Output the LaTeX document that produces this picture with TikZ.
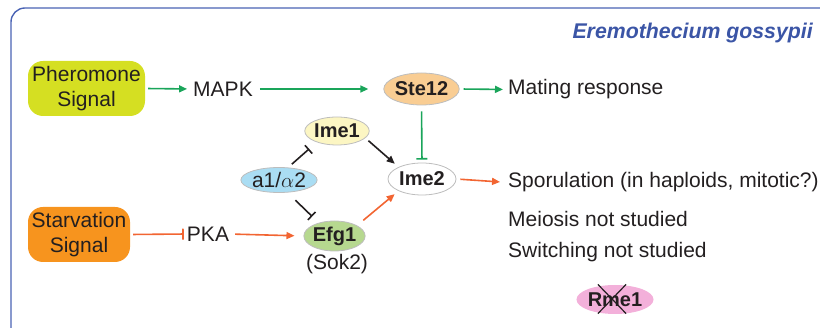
\documentclass[tikz,border=0pt]{standalone}
\usepackage{fontspec}
\setmainfont{Liberation Sans}
\usetikzlibrary{shapes.geometric,shapes.misc,arrows.meta}

\definecolor{ink}{HTML}{231F20}
\definecolor{frameblue}{HTML}{4A63B4}
\definecolor{titleblue}{HTML}{3B55A6}
\definecolor{grn}{HTML}{1AA55A}
\definecolor{org}{HTML}{F26532}
\definecolor{pherofill}{HTML}{D5DF22}
\definecolor{starvfill}{HTML}{F7941E}
\definecolor{stefill}{HTML}{F9CD93}
\definecolor{imeonefill}{HTML}{FCF6C3}
\definecolor{alphafill}{HTML}{AADDF3}
\definecolor{efgfill}{HTML}{B6D88F}
\definecolor{rmefill}{HTML}{F3B0DA}
\definecolor{rim}{HTML}{BDBDBD}

\tikzset{
  txt/.style={font=\fontsize{21}{24}\selectfont, text=ink, inner sep=0pt},
  signal/.style={rounded corners=15pt, minimum width=117pt, minimum height=55pt,
    align=center, inner sep=0pt, font=\fontsize{21}{25}\selectfont, text=ink},
  gene/.style={ellipse, draw=rim, line width=0.8pt, inner sep=0pt,
    font=\bfseries\fontsize{20}{22}\selectfont, text=ink},
  act/.style={-{Triangle[length=8pt,width=7pt]}, line width=1.6pt},
  inh/.style={-{Bar[width=11pt,line width=1.6pt]}, line width=1.6pt},
}

\begin{document}
\begin{tikzpicture}[x=1pt,y=-1pt]
\useasboundingbox (0,0) rectangle (820,328);
\clip (0,0) rectangle (820,328);

% outer frame
\draw[frameblue, line width=1.4pt, rounded corners=14pt] (11,8) rectangle (845,350);

% title
\node[anchor=east, inner sep=0pt, text=titleblue,
      font=\bfseries\itshape\fontsize{21.3}{24}\selectfont] (title) at (813,33) {Eremothecium gossypii};

% signals
\node[signal, fill=pherofill] (pher) at (86.5,88.5) {Pheromone\\Signal};
\node[signal, fill=starvfill, minimum width=102pt] (starv) at (79,234.5) {Starvation\\Signal};

% kinases
\node[txt] (mapk) at (223,89) {MAPK};
\node[txt] (pka) at (208,234) {PKA};

% regulators
\node[gene, fill=stefill, minimum width=72pt, minimum height=32pt] (ste) at (421.5,89) {Ste12};
\node[gene, fill=imeonefill, minimum width=56pt, minimum height=28pt] (imeone) at (337,131) {Ime1};
\node[gene, fill=alphafill, font=\fontsize{21}{22}\selectfont, minimum width=67pt, minimum height=25pt] (alpha) at (279,180) {a1/$\alpha$2};
\node[gene, fill=white, minimum width=68pt, minimum height=32pt] (imetwo) at (422,179) {Ime2};
\node[gene, fill=efgfill, minimum width=58pt, minimum height=30pt] (efg) at (334.5,236) {Efg1};
\node[txt] (sok) at (337,264) {(Sok2)};

% outcomes
\node[txt, anchor=west] (mating) at (508,89.5) {Mating response};
\node[txt, anchor=west] (sporu) at (508,182.5) {Sporulation (in haploids, mitotic?)};
\node[txt, anchor=west] (meio) at (508,218.5) {Meiosis not studied};
\node[txt, anchor=west] (switch) at (508,252.5) {Switching not studied};

% absent repressor
\node[gene, fill=rmefill, draw=none, minimum width=70pt, minimum height=29pt] (rme) at (615,299.5) {Rme1};
\node[cross out, draw=ink, line width=1.2pt, minimum width=27pt, minimum height=28pt, inner sep=0pt] (rmex) at (612,299) {};

% pheromone branch
\draw[act, grn, shorten <=3pt, shorten >=6pt] (pher.east) -- (mapk.west);
\draw[act, grn, shorten <=7pt, shorten >=15pt] (mapk.east) -- (ste.west);
\draw[act, grn, shorten <=4pt, shorten >=5pt] (ste.east) -- (mating.west);
\draw[inh, grn, shorten <=6pt, shorten >=3pt] (ste.south) -- (imetwo.north);

% mating-type control
\draw[inh, ink, shorten <=5pt, shorten >=10pt] (alpha.54) -- (imeone.209);
\draw[inh, ink, shorten <=11pt, shorten >=9pt] (alpha.-56) -- (efg.140);
\draw[act, ink, shorten <=4pt, shorten >=5pt] (imeone.-14) -- (imetwo.153);

% starvation branch
\draw[inh, org, shorten <=3pt, shorten >=3pt] (starv.east) -- (pka.west);
\draw[act, org, shorten <=6pt, shorten >=9pt] (pka.east) -- (efg.west);
\draw[act, org, shorten <=8pt, shorten >=5pt] (efg.25) -- (imetwo.207);
\draw[act, org, shorten <=4pt, shorten >=8pt] (imetwo.east) -- (sporu.west);
\end{tikzpicture}
\end{document}
